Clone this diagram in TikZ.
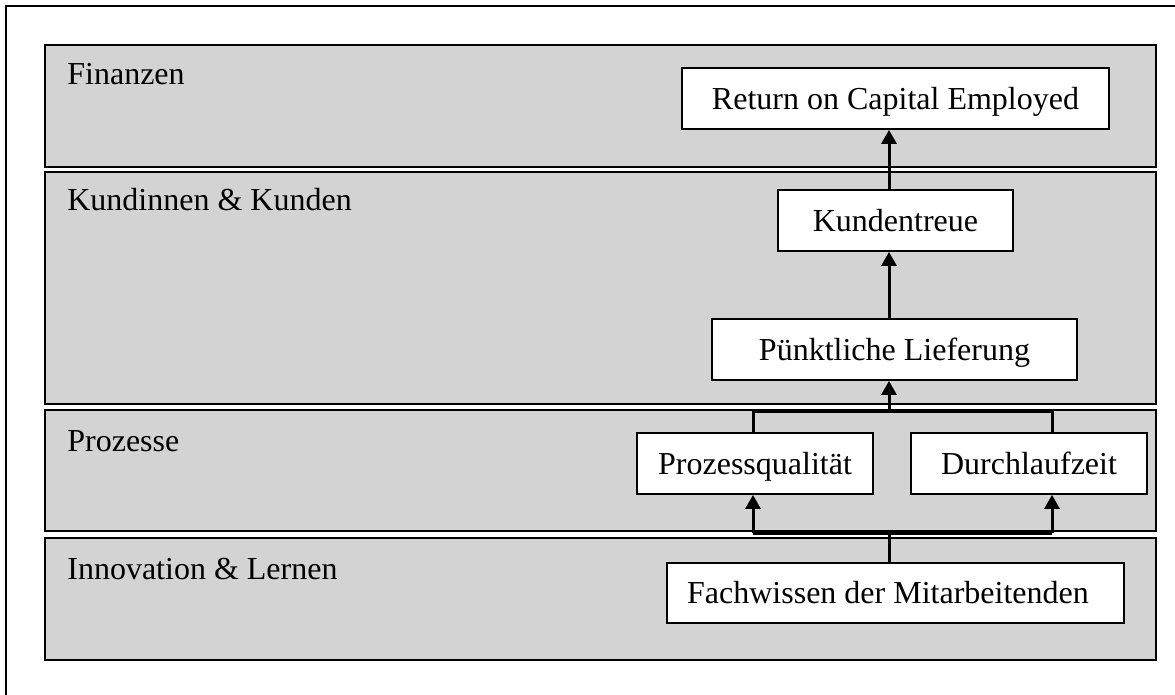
\documentclass[tikz,border=0pt]{standalone}
\usepackage{fontspec}
\setmainfont{Liberation Serif}
\usetikzlibrary{arrows.meta}
\tikzset{every picture/.style={line width=0.75pt}}
\tikzset{
  band/.style={draw=black, line width=2pt, fill={rgb,255:red,211;green,211;blue,211}},
  bandlabel/.style={anchor=base west, inner sep=0pt, font=\fontsize{32}{38}\selectfont},
  kpibox/.style={draw=black, line width=1.8pt, fill=white, inner sep=0pt,
    minimum height=61pt, text height=21.5pt, text depth=0pt, font=\fontsize{32}{38}\selectfont},
  link/.style={draw=black, line width=3pt},
  arr/.style={link, -{Triangle[length=14pt,width=15pt]}}
}

\begin{document}
\begin{tikzpicture}[x=1pt,y=1pt,yscale=-1,xscale=1]
\useasboundingbox (0,0) rectangle (1175,695);

%Shape: Rectangle [frame]
\draw[line width=2pt] (6,6) rectangle (1182,702);

%Shape: Rectangle [Finanzen]
\draw[band] (45,45) rectangle (1156,167);
%Shape: Rectangle [Kunden]
\draw[band] (45,172) rectangle (1156,404);
%Shape: Rectangle [Prozesse]
\draw[band] (45,410) rectangle (1156,531);
%Shape: Rectangle [Lernen]
\draw[band] (45,538) rectangle (1156,660);

% Text Node
\node[bandlabel] (lblfin) at (67,85) {Finanzen};
% Text Node
\node[bandlabel] (lblkun) at (67,211) {Kundinnen \& Kunden};
% Text Node
\node[bandlabel] (lblpro) at (67,451) {Prozesse};
% Text Node
\node[bandlabel] (lbllern) at (67,579) {Innovation \& Lernen};

% Boxes
\node[kpibox, minimum width=427pt] (roce) at (895.5,98.5) {Return on Capital Employed};
\node[kpibox, minimum width=235pt] (treue) at (895.5,220.5) {Kundentreue};
\node[kpibox, minimum width=365pt] (liefer) at (894.5,349.5) {Pünktliche Lieferung};
\node[kpibox, minimum width=236pt] (qual) at (755,463.5) {Prozessqualität};
\node[kpibox, minimum width=236pt] (zeit) at (1029,463.5) {Durchlaufzeit};
\node[kpibox, minimum width=457pt, minimum height=60pt] (wissen) at (895.5,593) {Fachwissen der Mitarbeitenden\hspace*{15pt}};

% Connector points
\coordinate (upL) at (753,411);
\coordinate (upM) at (889,411);
\coordinate (upR) at (1052,411);
\coordinate (loL) at (753,533);
\coordinate (loM) at (889,533);
\coordinate (loR) at (1052,533);

%Straight Lines
\draw[arr] (treue.north -| upM) -- (roce.south -| upM);
\draw[arr] (liefer.north -| upM) -- (treue.south -| upM);
\draw[arr] (upM) -- (liefer.south -| upM);
\draw[link] (qual.north -| upL) -- (upL) -- (upR) -- (zeit.north -| upR);
\draw[link] (wissen.north -| loM) -- (loM);
\draw[link] (loL) -- (loR);
\draw[arr] (loL) -- (qual.south -| loL);
\draw[arr] (loR) -- (zeit.south -| loR);

\end{tikzpicture}
\end{document}
